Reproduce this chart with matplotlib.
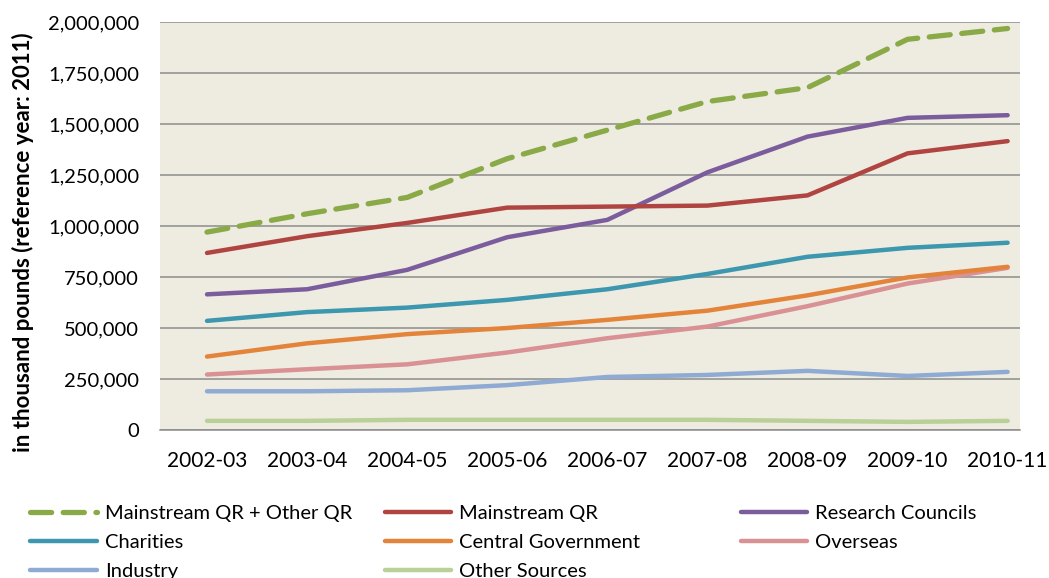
import numpy as np
import matplotlib
matplotlib.use("Agg")
import matplotlib.pyplot as plt
from matplotlib.ticker import FuncFormatter

years = ["2002-03", "2003-04", "2004-05", "2005-06", "2006-07",
         "2007-08", "2008-09", "2009-10", "2010-11"]

# values in thousand pounds
qr_total = [970000, 1060000, 1140000, 1330000, 1470000, 1610000, 1678000, 1915000, 1968000]
mainstream_qr = [868000, 950000, 1015000, 1090000, 1095000, 1100000, 1150000, 1356000, 1416000]
research_councils = [665000, 690000, 785000, 945000, 1030000, 1263000, 1438000, 1530000, 1543000]
charities = [535000, 578000, 600000, 638000, 690000, 765000, 849000, 893000, 918000]
central_gov = [360000, 425000, 470000, 500000, 540000, 585000, 660000, 748000, 800000]
overseas = [272000, 298000, 322000, 380000, 450000, 507000, 607000, 718000, 795000]
industry = [190000, 190000, 195000, 220000, 260000, 270000, 290000, 265000, 285000]
other_sources = [45000, 45000, 50000, 50000, 50000, 50000, 45000, 40000, 45000]

plt.rcParams['font.family'] = ['Lato', 'DejaVu Sans']

fig = plt.figure(figsize=(10.49, 5.78), dpi=100)
ax = fig.add_axes([0.1525, 0.256, 0.8195, 0.706])
ax.set_facecolor('#EEECE1')

x = np.arange(len(years))
lw = 3.2
series = [
    (qr_total, '#8AAA48', 'Mainstream QR + Other QR', True),
    (mainstream_qr, '#B04441', 'Mainstream QR', False),
    (research_councils, '#7B5C9C', 'Research Councils', False),
    (charities, '#3C97AF', 'Charities', False),
    (central_gov, '#E4843A', 'Central Government', False),
    (overseas, '#D99193', 'Overseas', False),
    (industry, '#8FAAD3', 'Industry', False),
    (other_sources, '#B9D096', 'Other Sources', False),
]

handles = {}
# draw bottom series first so the top lines sit above
for vals, col, name, dashed in reversed(series):
    if dashed:
        ln, = ax.plot(x, vals, color=col, lw=lw + 0.6, dashes=(4.0, 2.2),
                      dash_capstyle='round', solid_joinstyle='round', zorder=3)
    else:
        ln, = ax.plot(x, vals, color=col, lw=lw, solid_capstyle='round',
                      solid_joinstyle='round', zorder=3)
    handles[name] = ln

ax.set_xlim(-0.47, 8.12)
ax.set_ylim(0, 2000000)
ax.set_yticks(np.arange(0, 2000001, 250000))
ax.yaxis.set_major_formatter(FuncFormatter(lambda v, p: f"{int(v):,}"))
ax.set_xticks(x)
ax.set_xticklabels(years)
ax.grid(axis='y', color='#8C8C8C', lw=1.1, zorder=1)
ax.set_axisbelow(True)
for s in ['left', 'right', 'top']:
    ax.spines[s].set_visible(False)
ax.spines['bottom'].set_color('#8C8C8C')
ax.spines['bottom'].set_linewidth(1.1)
ax.tick_params(axis='y', length=0, labelsize=14.5, colors='black', pad=15)
ax.tick_params(axis='x', length=0, labelsize=15, colors='black', pad=15)
ax.set_ylabel('in thousand pounds (reference year: 2011)', fontsize=16,
              fontweight='bold')
ax.yaxis.set_label_coords(-0.147, 0.46)

# legend: three separate columns, laid out row by row like the original
columns = [
    ['Mainstream QR + Other QR', 'Charities', 'Industry'],
    ['Mainstream QR', 'Central Government', 'Other Sources'],
    ['Research Councils', 'Overseas'],
]
col_x = [0.029, 0.367, 0.706]
for names, cx in zip(columns, col_x):
    fig.legend([handles[n] for n in names], names, loc='upper left',
               bbox_to_anchor=(cx, 0.127), frameon=False, fontsize=14.5,
               handlelength=3.3, handletextpad=0.4, labelspacing=0.6,
               borderaxespad=0, borderpad=0)

fig.savefig('out.png', dpi=100)
